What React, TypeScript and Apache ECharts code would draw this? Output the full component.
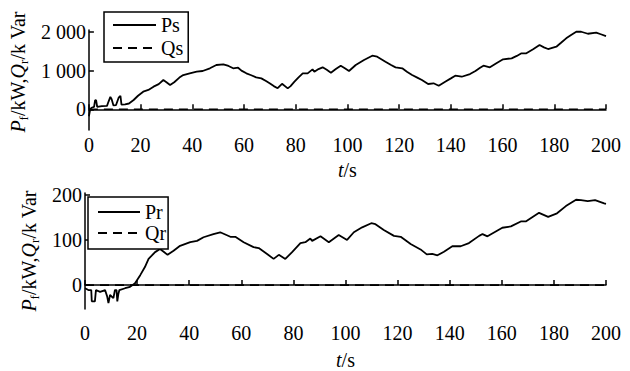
import React, { useEffect, useRef } from "react";
import * as echarts from "echarts";

// Top chart: stator power Ps (kW) over time t (s)
const psTime = [0, 0.5, 1, 2, 2.4, 2.8, 3.2, 5, 7, 7.6, 8.3, 8.8, 9.5, 10.5, 11.5, 12.2, 12.6, 14, 15.5, 17.3, 19, 21, 23, 25, 27, 28.8, 30, 31.4, 33, 35, 36.5, 39, 41.7, 44, 46.8, 49.3, 52, 54, 55.8, 57.7, 59, 60.9, 62.8, 64.7, 66.7, 68.5, 69.9, 71.5, 73, 74.7, 76.9, 78, 79.5, 81, 82.7, 84.6, 86.5, 87.2, 88.8, 90.4, 92, 93.6, 95.5, 97.4, 99, 100.6, 103.2, 106.4, 109.6, 111.5, 114.7, 116.7, 118.6, 121.2, 123, 125, 127, 128.8, 131.2, 133.3, 135.3, 137.8, 140, 141.7, 144.2, 147.4, 149.5, 151.3, 152.6, 155.1, 157.6, 160.2, 163.5, 165.5, 167.3, 169.2, 171.8, 174.3, 176, 177.6, 180.8, 182.6, 184.6, 186.5, 188.5, 190.4, 193, 196.2, 198, 200];
const psValues = [-180, 0, 40, 60, 240, 230, 60, 80, 90, 200, 320, 260, 100, 110, 300, 350, 120, 130, 150, 240, 350, 455, 500, 585, 650, 757, 700, 628, 700, 820, 886, 930, 972, 990, 1060, 1145, 1163, 1120, 1060, 1075, 1000, 930, 880, 826, 800, 730, 672, 600, 545, 660, 542, 600, 713, 820, 930, 930, 1033, 972, 1040, 1085, 1020, 946, 1040, 1127, 1060, 990, 1145, 1274, 1385, 1360, 1230, 1150, 1085, 1060, 970, 886, 820, 757, 654, 672, 610, 713, 800, 868, 842, 912, 990, 1075, 1127, 1085, 1190, 1292, 1318, 1380, 1447, 1447, 1550, 1661, 1600, 1558, 1618, 1720, 1835, 1920, 2005, 2005, 1953, 1980, 1940, 1890];
const qsTime = [0, 200];
const qsValues = [0, 0];

// Bottom chart: rotor power Pr (kW) over time t (s)
const prTime = [0, 1.3, 2.4, 2.6, 3.8, 4.2, 5.8, 7.7, 8.5, 9, 9.6, 10.9, 11.5, 12.1, 12.4, 12.8, 13.2, 15.4, 17.3, 19.2, 21.2, 23, 24.4, 25.6, 26.9, 28.8, 30.2, 31.7, 34, 36.5, 40.4, 43, 45.5, 49.3, 51.9, 55.8, 57.7, 60.9, 64.7, 66.7, 69.9, 72.4, 74.4, 76.9, 79.5, 82.7, 84.6, 86.5, 87.2, 90.4, 93.6, 97.4, 100.6, 103.2, 106.4, 109.9, 111.5, 114.7, 118.6, 121.2, 125, 128.8, 131.2, 133.3, 135.3, 137.8, 141, 144.2, 147.4, 151.3, 152.6, 154.5, 160.2, 163.5, 167.3, 169.2, 174.3, 177.8, 181.2, 184.6, 188.5, 190.4, 193, 195.8, 199.3, 200];
const prValues = [-7, -11, -11, -36, -36, -11, -15, -11, -25, -40, -22, -29, -11, -11, -36, -20, -11, -7, -4, 4, 22, 40, 58, 65, 73, 80, 74, 67, 76, 87, 95, 98, 106, 113, 117, 107, 107, 95, 84, 82, 69, 58, 67, 58, 73, 93, 95, 103, 98, 108, 95, 111, 100, 117, 128, 137, 135, 122, 109, 107, 91, 79, 68, 69, 66, 74, 86, 86, 93, 109, 113, 108, 127, 130, 141, 141, 160, 151, 159, 175, 189, 188, 186, 188, 181, 180];
const qrTime = [0, 200];
const qrValues = [0, 0];

const xTicks = [0, 20, 40, 60, 80, 100, 120, 140, 160, 180, 200];
const topYTicks = [0, 1000, 2000];
const bottomYTicks = [0, 100, 200];

const FONT = "Liberation Serif";
const BLACK = "#000";

const zip = (a: number[], b: number[]) => a.map((v, i) => [v, b[i]]);

const fmtThousands = (v: number) => {
  const s = String(Math.round(v));
  return s.length > 3 ? s.slice(0, s.length - 3) + " " + s.slice(s.length - 3) : s;
};

const yNameRich = {
  i: { fontStyle: "italic", fontSize: 20, fontFamily: FONT, color: BLACK, lineHeight: 24, verticalAlign: "middle" },
  s: { fontSize: 13, fontFamily: FONT, color: BLACK, lineHeight: 13, verticalAlign: "bottom" },
  n: { fontSize: 20, fontFamily: FONT, color: BLACK, lineHeight: 24, verticalAlign: "middle" },
};
const xNameRich = {
  i: { fontStyle: "italic", fontSize: 20, fontFamily: FONT, color: BLACK, lineHeight: 20 },
  n: { fontSize: 20, fontFamily: FONT, color: BLACK, lineHeight: 20 },
};

function makeX(gridIndex: number, labelMargin: number, nameGap: number) {
  return {
    gridIndex,
    type: "value",
    min: 0,
    max: 200,
    interval: 20,
    axisLine: { lineStyle: { color: BLACK, width: 1.5 } },
    axisTick: { inside: true, length: 5, lineStyle: { color: BLACK, width: 1.5 }, customValues: xTicks },
    axisLabel: { color: BLACK, fontSize: 20, fontFamily: FONT, margin: labelMargin, customValues: xTicks },
    splitLine: { show: false },
    name: "{i|t}{n|/s}",
    nameLocation: "middle",
    nameGap,
    nameTextStyle: { fontFamily: FONT, rich: xNameRich },
  };
}

function makeY(gridIndex: number, min: number, max: number, ticks: number[], nameGap: number, namePadding: number[]) {
  return {
    gridIndex,
    type: "value",
    min,
    max,
    axisLine: { onZero: false, lineStyle: { color: BLACK, width: 1.5 } },
    axisTick: { inside: true, length: 5, lineStyle: { color: BLACK, width: 1.5 }, customValues: ticks },
    axisLabel: { color: BLACK, fontSize: 20, fontFamily: FONT, margin: 3, customValues: ticks, formatter: fmtThousands },
    splitLine: { show: false },
    name: "{i|P}{s|f}{n|/kW,}{i|Q}{s|r}{n|/k Var}",
    nameLocation: "middle",
    nameGap,
    nameTextStyle: { fontFamily: FONT, rich: yNameRich, padding: namePadding },
  };
}

const solid = { color: BLACK, width: 1.8, type: "solid" };
const dashed = { color: BLACK, width: 1.6, type: [9, 6] };

const legendBase = {
  orient: "vertical",
  itemHeight: 14,
  borderColor: BLACK,
  borderWidth: 1.5,
  borderRadius: 0,
  backgroundColor: "#fff",
  itemStyle: { opacity: 0, borderWidth: 0 },
  textStyle: { fontSize: 20, fontFamily: FONT, color: BLACK, lineHeight: 20 },
};

export default function App() {
  const ref = useRef<HTMLDivElement>(null);
  useEffect(() => {
    if (!ref.current) return;
    const chart = echarts.init(ref.current, null, { renderer: "svg" });
    chart.setOption({
      animation: false,
      backgroundColor: "#fff",
      textStyle: { fontFamily: FONT, color: BLACK },
      grid: [
        { left: 85, top: 30, width: 521, height: 100 },
        { left: 85, top: 193, width: 521, height: 118 },
      ],
      xAxis: [makeX(0, 5, 30), makeX(1, 14, 41)],
      yAxis: [
        makeY(0, -535, 2050, topYTicks, 49, [0, 0, 0, 16]),
        makeY(1, -53, 204, bottomYTicks, 43, [0, 0, 0, 0]),
      ],
      legend: [
        {
          ...legendBase,
          data: ["Ps", "Qs"],
          left: 104,
          top: 12,
          padding: [3, 5, 4, 8],
          itemGap: 3,
          itemWidth: 43,
        },
        {
          ...legendBase,
          data: ["Pr", "Qr"],
          left: 88,
          top: 197,
          padding: [5, 2, 6, 9],
          itemGap: 1,
          itemWidth: 42,
        },
      ],
      series: [
        { name: "Ps", type: "line", xAxisIndex: 0, yAxisIndex: 0, data: zip(psTime, psValues), symbol: "none", lineStyle: solid, itemStyle: { color: BLACK }, z: 3 },
        { name: "Qs", type: "line", xAxisIndex: 0, yAxisIndex: 0, data: zip(qsTime, qsValues), symbol: "none", lineStyle: dashed, itemStyle: { color: BLACK }, z: 2 },
        { name: "Pr", type: "line", xAxisIndex: 1, yAxisIndex: 1, data: zip(prTime, prValues), symbol: "none", lineStyle: solid, itemStyle: { color: BLACK }, z: 3 },
        { name: "Qr", type: "line", xAxisIndex: 1, yAxisIndex: 1, data: zip(qrTime, qrValues), symbol: "none", lineStyle: dashed, itemStyle: { color: BLACK }, z: 2 },
      ],
    });
    return () => chart.dispose();
  }, []);
  return <div ref={ref} style={{ width: 630, height: 371, position: "absolute", left: 0, top: 0 }} />;
}
